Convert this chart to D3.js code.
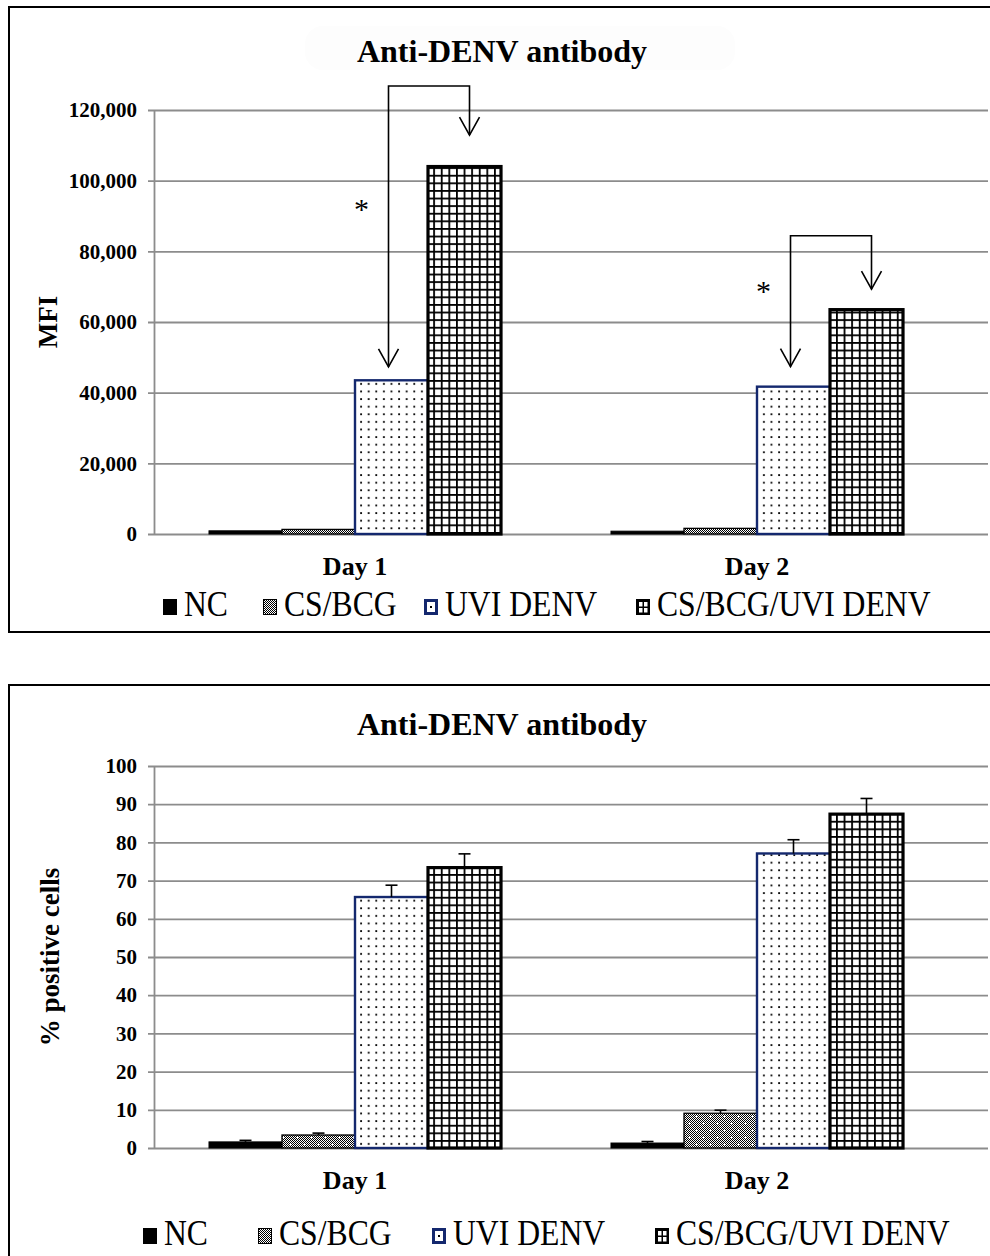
<!DOCTYPE html>
<html>
<head>
<meta charset="utf-8">
<script src="https://cdn.jsdelivr.net/npm/d3@7"></script>
<style>
  body { margin: 0; background: #fff; }
  svg { display: block; }
  text { font-family: 'Liberation Serif', 'Times New Roman', serif; }
</style>
</head>
<body>
<svg width="990" height="1256"></svg>
<script>
// values
const days = ['Day 1', 'Day 2']
const groups = ['NC', 'CS/BCG', 'UVI DENV', 'CS/BCG/UVI DENV']

const mfiDay1 = [900, 1300, 43500, 104000]
const mfiDay2 = [800, 1600, 41700, 63500]
const mfiTicks = [0, 20000, 40000, 60000, 80000, 100000, 120000]

const pctDay1 = [1.6, 3.4, 65.7, 73.4]
const pctDay2 = [1.3, 9.1, 77.1, 87.4]
const pctErrDay1 = [0.4, 0.5, 3.1, 3.6]
const pctErrDay2 = [0.4, 0.8, 3.6, 4.1]
const pctTicks = [0, 10, 20, 30, 40, 50, 60, 70, 80, 90, 100]

// significance brackets on the MFI chart (value units)
const mfiBrackets = [
  { day: 'Day 1', top: 126800, leftTip: 47300, rightTip: 112900, star: 93100 },
  { day: 'Day 2', top: 84400, leftTip: 47400, rightTip: 69300, star: 69900 },
]

const svg = d3.select('svg')
const defs = svg.append('defs')

// checker dither for CS/BCG
const chk = defs.append('pattern').attr('id', 'chk')
  .attr('patternUnits', 'userSpaceOnUse').attr('width', 2).attr('height', 2)
chk.append('rect').attr('width', 2).attr('height', 2).attr('fill', '#fff')
chk.append('rect').attr('width', 1).attr('height', 1).attr('fill', '#000')
chk.append('rect').attr('x', 1).attr('y', 1).attr('width', 1).attr('height', 1).attr('fill', '#000')

const csbcg = defs.append('pattern').attr('id', 'csbcg')
  .attr('patternUnits', 'userSpaceOnUse').attr('width', 14).attr('height', 14)
csbcg.append('rect').attr('width', 14).attr('height', 14).attr('fill', 'url(#chk)')
;[[3, 3], [10, 10]].forEach(([cx, cy]) => {
  csbcg.append('rect').attr('x', cx - 1).attr('y', cy).attr('width', 3).attr('height', 1).attr('fill', '#fff')
  csbcg.append('rect').attr('x', cx).attr('y', cy - 1).attr('width', 1).attr('height', 3).attr('fill', '#fff')
})

// dots for UVI DENV
const dots = defs.append('pattern').attr('id', 'dots')
  .attr('patternUnits', 'userSpaceOnUse').attr('width', 7.6).attr('height', 7.6)
dots.append('rect').attr('width', 7.6).attr('height', 7.6).attr('fill', '#fff')
dots.append('rect').attr('x', 3).attr('y', 3).attr('width', 1.8).attr('height', 1.8).attr('fill', '#000')

// grid for CS/BCG/UVI DENV
const grid = defs.append('pattern').attr('id', 'grid')
  .attr('patternUnits', 'userSpaceOnUse').attr('width', 7.6).attr('height', 7.6)
grid.append('rect').attr('width', 7.6).attr('height', 7.6).attr('fill', '#fff')
grid.append('rect').attr('width', 7.6).attr('height', 1.8).attr('fill', '#000')
grid.append('rect').attr('width', 1.8).attr('height', 7.6).attr('fill', '#000')

const barStyle = {
  'NC': { fill: '#000', stroke: '#000', sw: 1 },
  'CS/BCG': { fill: 'url(#csbcg)', stroke: '#000', sw: 1.3 },
  'UVI DENV': { fill: 'url(#dots)', stroke: '#14286e', sw: 2.4 },
  'CS/BCG/UVI DENV': { fill: 'url(#grid)', stroke: '#000', sw: 3.2 },
}

const left = 154, right = 988
const x0 = d3.scaleBand().domain(days).range([left, 958])
  .paddingInner(0.2736).paddingOuter(0.1368)
const x1 = d3.scaleBand().domain(groups).range([0, x0.bandwidth()])

function legendSwatch(g, name, x, y) {
  const w = 14, h = 16
  if (name === 'NC') {
    g.append('rect').attr('x', x).attr('y', y).attr('width', w).attr('height', h).attr('fill', '#000')
  } else if (name === 'CS/BCG') {
    g.append('rect').attr('x', x + 0.5).attr('y', y + 0.5).attr('width', w - 1).attr('height', h - 1)
      .attr('fill', 'url(#chk)').attr('stroke', '#000').attr('stroke-width', 1)
  } else if (name === 'UVI DENV') {
    g.append('rect').attr('x', x + 1.5).attr('y', y + 1.5).attr('width', w - 3).attr('height', h - 3)
      .attr('fill', '#fff').attr('stroke', '#14286e').attr('stroke-width', 3)
    g.append('rect').attr('x', x + 6).attr('y', y + 7).attr('width', 2).attr('height', 2).attr('fill', '#000')
  } else {
    g.append('rect').attr('x', x).attr('y', y).attr('width', w).attr('height', h).attr('fill', '#000')
    ;[[3, 3], [8, 3], [3, 9], [8, 9]].forEach(([dx, dy]) => {
      g.append('rect').attr('x', x + dx).attr('y', y + dy).attr('width', 3.5).attr('height', 4.5).attr('fill', '#fff')
    })
  }
}

function drawPanel(cfg) {
  const y = d3.scaleLinear().domain([0, cfg.max]).range([cfg.y0, cfg.y1])
  const g = svg.append('g')

  // frame
  g.append('rect').attr('x', 9).attr('y', cfg.frameTop).attr('width', 1000).attr('height', cfg.frameH)
    .attr('fill', 'none').attr('stroke', '#000').attr('stroke-width', 2)

  if (cfg.titleBg) {
    g.append('rect').attr('x', 305).attr('y', cfg.titleY - 36).attr('width', 430).attr('height', 44)
      .attr('rx', 18).attr('fill', '#fdfdfd')
  }
  g.append('text').attr('x', 502).attr('y', cfg.titleY).attr('text-anchor', 'middle')
    .attr('font-size', 32).attr('font-weight', 'bold').text(cfg.title)

  // y axis + gridlines
  const axis = g.append('g').attr('transform', `translate(${left},0)`)
    .call(d3.axisLeft(y).tickValues(cfg.ticks).tickFormat(cfg.fmt)
      .tickSizeInner(-(right - left)).tickSizeOuter(0).tickPadding(17))
  axis.selectAll('.tick line').attr('x1', -6).attr('stroke', '#8c8c8c').attr('stroke-width', 1.8)
  axis.select('.domain').attr('stroke', '#8c8c8c').attr('stroke-width', 1.8)
  axis.selectAll('.tick text').attr('font-size', 21).attr('font-weight', 'bold')
    .attr('fill', '#000').attr('font-family', 'Liberation Serif, serif')

  g.append('text').attr('transform', `translate(${cfg.ylabelX},${(cfg.y0 + cfg.y1) / 2}) rotate(-90)`)
    .attr('text-anchor', 'middle').attr('font-size', 27).attr('font-weight', 'bold').text(cfg.ylabel)

  // bars
  const rows = []
  days.forEach((d, i) => groups.forEach((s, j) => rows.push({
    day: d, group: s, v: cfg.values[i][j], e: cfg.errors ? cfg.errors[i][j] : null,
  })))
  g.append('g').selectAll('rect').data(rows).join('rect')
    .attr('x', (d) => x0(d.day) + x1(d.group))
    .attr('y', (d) => y(d.v))
    .attr('width', x1.bandwidth())
    .attr('height', (d) => y(0) - y(d.v))
    .attr('fill', (d) => barStyle[d.group].fill)
    .attr('stroke', (d) => barStyle[d.group].stroke)
    .attr('stroke-width', (d) => barStyle[d.group].sw)

  if (cfg.errors) {
    const eb = g.append('g').attr('stroke', '#000').attr('stroke-width', 1.6)
    rows.forEach((d) => {
      const cx = x0(d.day) + x1(d.group) + x1.bandwidth() / 2
      eb.append('line').attr('x1', cx).attr('x2', cx).attr('y1', y(d.v)).attr('y2', y(d.v + d.e))
      eb.append('line').attr('x1', cx - 6).attr('x2', cx + 6).attr('y1', y(d.v + d.e)).attr('y2', y(d.v + d.e))
    })
  }

  // category labels
  g.append('g').selectAll('text').data(days).join('text')
    .attr('x', (d) => x0(d) + x0.bandwidth() / 2).attr('y', cfg.dayY)
    .attr('text-anchor', 'middle').attr('font-size', 26).attr('font-weight', 'bold').text((d) => d)

  // brackets
  if (cfg.brackets) {
    const br = g.append('g').attr('fill', 'none').attr('stroke', '#000').attr('stroke-width', 1.6)
    cfg.brackets.forEach((b) => {
      const lx = x0(b.day) + x1('UVI DENV') + x1.bandwidth() / 2 - 3
      const rx = x0(b.day) + x1('CS/BCG/UVI DENV') + x1.bandwidth() / 2 + 5
      br.append('path').attr('d', `M${lx},${y(b.leftTip)}V${y(b.top)}H${rx}V${y(b.rightTip)}`)
      ;[[lx, b.leftTip], [rx, b.rightTip]].forEach(([ax, v]) => {
        br.append('path').attr('d', `M${ax - 10},${y(v) - 18}L${ax},${y(v)}L${ax + 10},${y(v) - 18}`)
      })
      g.append('text').attr('x', lx - 27).attr('y', y(b.star) + 14).attr('text-anchor', 'middle')
        .attr('font-size', 30).text('*')
    })
  }

  // legend (the original text is a tall, narrow Times)
  const lg = g.append('g')
  groups.forEach((s, i) => {
    legendSwatch(lg, s, cfg.legendX[i], cfg.legendY - 17)
    lg.append('text').attr('transform', `translate(${cfg.legendX[i] + 21},${cfg.legendY}) scale(0.88,1)`)
      .attr('font-size', 36).text(s)
  })
}

drawPanel({
  frameTop: 7, frameH: 625,
  title: 'Anti-DENV antibody', titleY: 62, titleBg: true,
  max: 120000, y0: 534, y1: 110, ticks: mfiTicks, fmt: d3.format(','),
  ylabel: 'MFI', ylabelX: 57,
  values: [mfiDay1, mfiDay2], errors: null, brackets: mfiBrackets,
  dayY: 575,
  legendX: [163, 263, 424, 636], legendY: 616,
})

drawPanel({
  frameTop: 685, frameH: 700,
  title: 'Anti-DENV antibody', titleY: 735, titleBg: false,
  max: 100, y0: 1148, y1: 766, ticks: pctTicks, fmt: d3.format('d'),
  ylabel: '% positive cells', ylabelX: 59,
  values: [pctDay1, pctDay2], errors: [pctErrDay1, pctErrDay2], brackets: null,
  dayY: 1189,
  legendX: [143, 258, 432, 655], legendY: 1245,
})
</script>
</body>
</html>
